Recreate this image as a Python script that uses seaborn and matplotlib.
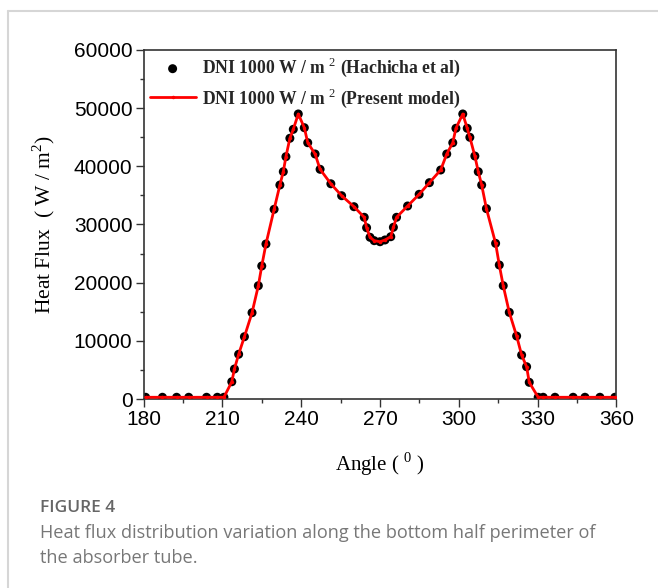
import matplotlib
matplotlib.use("Agg")
import matplotlib.pyplot as plt
from matplotlib.lines import Line2D
from matplotlib.ticker import MultipleLocator
import seaborn as sns
import pandas as pd

angle = [180.8, 187.2, 192.6, 197.2, 204.0, 208.1, 210.6, 213.6, 214.6, 216.2,
         218.4, 221.3, 223.7, 225.0, 226.6, 229.7, 231.9, 233.2, 234.2, 235.7,
         237.0, 238.9, 241.2, 242.5, 245.3, 247.2, 251.3, 255.4, 260.1, 264.0,
         264.9, 266.2, 267.8, 270.0, 271.9, 274.1, 275.1, 276.3, 280.5, 284.9,
         288.8, 293.1, 295.4, 297.7, 298.9, 301.5, 303.2, 304.2, 306.1, 307.4,
         308.7, 310.5, 314.0, 315.4, 316.9, 319.2, 322.0, 323.9, 325.8, 326.8,
         330.2, 332.1, 336.6, 343.5, 348.0, 353.7, 359.4]
hachicha_flux = [300, 300, 300, 300, 300, 300, 300, 2970, 5160, 7690,
                 10710, 14840, 19480, 22870, 26650, 32610, 36790, 39080, 41660, 44820,
                 46360, 49000, 46640, 44060, 42120, 39490, 37000, 34950, 33060, 31240,
                 29450, 27800, 27220, 27040, 27340, 27900, 29520, 31240, 33180, 35190,
                 37190, 39370, 42120, 44060, 46540, 49000, 46540, 44990, 41770, 39080,
                 36790, 32730, 26760, 23040, 19480, 14900, 10830, 7560, 5550, 2870,
                 300, 300, 300, 300, 300, 300, 300]
model_flux = list(hachicha_flux)

label_ref = r"DNI 1000 W / m $^{2}$ (Hachicha et al)"
label_model = r"DNI 1000 W / m $^{2}$ (Present model)"
x_ticks = [180, 210, 240, 270, 300, 330, 360]
y_ticks = [0, 10000, 20000, 30000, 40000, 50000, 60000]

sns.set_theme(style="white")
plt.rcParams["font.family"] = ["Liberation Sans", "DejaVu Sans"]
plt.rcParams["mathtext.fontset"] = "custom"
plt.rcParams["mathtext.rm"] = "Liberation Serif"
plt.rcParams["mathtext.bf"] = "Liberation Serif:bold"

fig = plt.figure(figsize=(6.58, 5.88), dpi=100)
fig.patch.set_facecolor("white")
ax = fig.add_axes([0.2181, 0.3214, 0.7188, 0.5936])

df_ref = pd.DataFrame({"angle": angle, "flux": hachicha_flux})
df_mod = pd.DataFrame({"angle": angle, "flux": model_flux})

sns.scatterplot(data=df_ref, x="angle", y="flux", ax=ax, color="black", s=42,
                edgecolor="none", label=label_ref, zorder=2)
sns.lineplot(data=df_mod, x="angle", y="flux", ax=ax, color="red", lw=2.0,
             marker="o", markersize=2.5, markeredgewidth=0, label=label_model,
             sort=False, zorder=3)

ax.set_xlim(180, 360)
ax.set_ylim(0, 60000)
ax.set_xticks(x_ticks)
ax.set_yticks(y_ticks)
ax.xaxis.set_minor_locator(MultipleLocator(15))
ax.yaxis.set_minor_locator(MultipleLocator(5000))
ax.tick_params(axis="both", which="major", direction="out", length=6, width=1,
               color="#333333", labelsize=15, labelcolor="black",
               bottom=True, left=True, top=False, right=False, pad=2)
ax.tick_params(axis="both", which="minor", direction="out", length=3, width=1,
               color="#333333", bottom=True, left=True, top=False, right=False)
for sp in ax.spines.values():
    sp.set_color("#333333")
    sp.set_linewidth(1.2)

ax.set_xlabel(r"Angle ( $^{0}$ )", fontfamily="Liberation Serif", fontsize=15,
              color="black", labelpad=15)
ax.set_ylabel(r"Heat Flux  ( W / m$^{2}$)", fontfamily="Liberation Serif",
              fontsize=15.5, color="black", labelpad=12)

leg = ax.legend(loc="upper left", frameon=False, bbox_to_anchor=(0.0, 1.0),
                prop={"family": "Liberation Serif", "weight": "bold", "size": 12.7},
                handlelength=2.6, handletextpad=0.35, borderaxespad=0.0,
                borderpad=0.35, labelspacing=0.4, markerscale=1.0)

# figure frame and caption
fig.add_artist(Line2D([0.0122, 0.0122], [0.0, 0.9813], color="#d6d6d6", lw=1.5,
                      transform=fig.transFigure))
fig.add_artist(Line2D([0.0122, 1.0], [0.9813, 0.9813], color="#d6d6d6", lw=1.5,
                      transform=fig.transFigure))
fig.text(40 / 658, 1 - 512 / 588, "FIGURE 4", fontfamily="Open Sans",
         fontweight="semibold", fontsize=12.5, color="#666666", va="baseline")
fig.text(40 / 658, 1 - 538 / 588,
         "Heat flux distribution variation along the bottom half perimeter of",
         fontfamily="Open Sans", fontsize=13.1, color="#777777", va="baseline")
fig.text(40 / 658, 1 - 563 / 588, "the absorber tube.",
         fontfamily="Open Sans", fontsize=13.1, color="#777777", va="baseline")

fig.savefig("out.png", dpi=100, facecolor="white")
